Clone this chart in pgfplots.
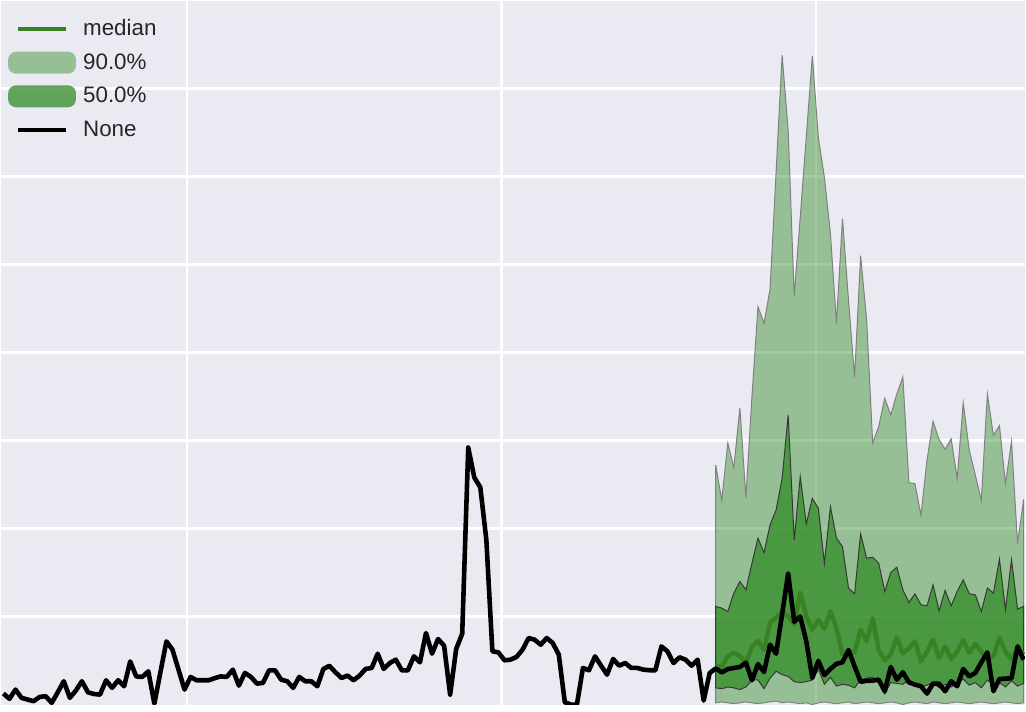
\documentclass[border=0pt]{standalone}
\usepackage{fontspec}
\setmainfont{Liberation Sans}
\usepackage{pgfplots}
\usepackage{pgfplotstable}
\pgfplotsset{compat=1.18}
\usepgfplotslibrary{fillbetween}

\definecolor{bg}{RGB}{234,234,242}
\definecolor{bandgreen}{RGB}{50,140,40}
\definecolor{medgreen}{RGB}{56,130,36}
\definecolor{edgelight}{RGB}{128,128,128}
\definecolor{edgedark}{RGB}{55,55,55}
\definecolor{txt}{RGB}{38,38,38}

% observed series (history and actuals)
\pgfplotstableread{
x y
0 0.125
1 0.065
2 0.17
3 0.076
4 0.057
5 0.038
6 0.087
7 0.095
8 0.019
9 0.14
10 0.265
11 0.076
12 0.16
13 0.265
14 0.14
15 0.12
16 0.113
17 0.276
18 0.19
19 0.276
20 0.208
21 0.49
22 0.32
23 0.314
24 0.378
25 0.011
26 0.366
27 0.718
28 0.624
29 0.397
30 0.17
31 0.314
32 0.276
33 0.276
34 0.276
35 0.3
36 0.32
37 0.314
38 0.397
39 0.215
40 0.36
41 0.314
42 0.238
43 0.246
44 0.389
45 0.389
46 0.283
47 0.265
48 0.19
49 0.314
50 0.265
51 0.265
52 0.208
53 0.405
54 0.44
55 0.367
56 0.302
57 0.329
58 0.276
59 0.329
60 0.405
61 0.416
62 0.578
63 0.405
64 0.472
65 0.51
66 0.389
67 0.389
68 0.548
69 0.48
70 0.813
71 0.578
72 0.745
73 0.669
74 0.113
75 0.631
76 0.805
77 2.921
78 2.581
79 2.468
80 1.871
81 0.605
82 0.593
83 0.503
84 0.51
85 0.541
86 0.624
87 0.756
88 0.737
89 0.68
90 0.756
91 0.699
92 0.567
93 0.026
94 0.0
95 0.0
96 0.416
97 0.389
98 0.548
99 0.442
100 0.34
101 0.518
102 0.442
103 0.472
104 0.416
105 0.416
106 0.397
107 0.39
108 0.389
109 0.661
110 0.605
111 0.472
112 0.537
113 0.51
114 0.442
115 0.51
116 0.045
117 0.359
118 0.41
119 0.365
120 0.404
121 0.416
122 0.427
123 0.476
124 0.276
125 0.46
126 0.37
127 0.68
128 0.578
129 1.03
130 1.49
131 0.94
132 1.0
133 0.72
134 0.302
135 0.497
136 0.335
137 0.406
138 0.463
139 0.48
140 0.62
141 0.435
142 0.259
143 0.27
144 0.272
145 0.283
146 0.151
147 0.427
148 0.283
149 0.367
150 0.253
151 0.227
152 0.208
153 0.125
154 0.238
155 0.238
156 0.151
157 0.265
158 0.208
159 0.404
160 0.321
161 0.359
162 0.48
163 0.593
164 0.151
165 0.291
166 0.295
167 0.298
168 0.661
169 0.51
}\obs

% forecast quantiles
\pgfplotstableread{
x l90 l50 med u50 u90
118 0.02 0.19 0.44 1.115 2.72
119 0.03 0.18 0.43 1.096 2.32
120 0.02 0.20 0.55 1.058 2.97
121 0.01 0.19 0.59 1.266 2.69
122 0.02 0.17 0.55 1.398 3.37
123 0.03 0.20 0.47 1.304 2.35
124 0.02 0.28 0.66 1.606 3.50
125 0.01 0.28 0.72 1.890 4.52
126 0.02 0.18 0.62 1.727 4.33
127 0.03 0.30 0.93 2.041 4.72
128 0.04 0.38 0.99 2.211 6.05
129 0.02 0.34 1.04 2.570 7.38
130 0.03 0.32 1.00 3.288 6.52
131 0.02 0.26 0.91 1.871 4.64
132 0.01 0.25 1.27 2.589 5.54
133 0.02 0.26 1.00 2.052 6.45
134 0.00 0.28 0.85 2.343 7.37
135 0.02 0.40 0.96 2.230 6.44
136 0.03 0.23 0.86 1.606 5.99
137 0.02 0.31 1.06 2.249 5.35
138 0.01 0.21 0.87 1.890 4.33
139 0.02 0.23 0.57 1.795 5.52
140 0.03 0.22 0.57 1.323 4.59
141 0.01 0.19 0.60 1.259 3.72
142 0.02 0.28 0.85 1.939 5.10
143 0.03 0.30 0.72 1.663 4.37
144 0.02 0.31 0.98 1.674 2.97
145 0.01 0.26 0.62 1.606 3.16
146 0.02 0.12 0.50 1.285 3.48
147 0.03 0.25 0.57 1.500 3.29
148 0.02 0.24 0.76 1.561 3.53
149 0.00 0.23 0.58 1.304 3.72
150 0.02 0.28 0.64 1.160 2.52
151 0.03 0.22 0.72 1.259 2.51
152 0.02 0.20 0.49 1.134 2.15
153 0.01 0.22 0.60 1.122 2.78
154 0.03 0.25 0.74 1.361 3.22
155 0.02 0.19 0.53 1.066 3.01
156 0.01 0.23 0.66 1.296 2.90
157 0.02 0.20 0.52 1.122 3.02
158 0.03 0.24 0.60 1.285 2.57
159 0.02 0.29 0.73 1.417 3.43
160 0.01 0.22 0.59 1.259 2.89
161 0.02 0.25 0.69 1.247 2.61
162 0.03 0.19 0.60 1.058 2.32
163 0.02 0.28 0.52 1.323 3.53
164 0.01 0.22 0.55 1.266 3.06
165 0.02 0.25 0.76 1.652 3.17
166 0.03 0.20 0.60 1.077 2.51
167 0.02 0.27 0.51 1.644 2.99
168 0.01 0.21 0.64 1.085 1.83
169 0.02 0.24 0.57 1.115 2.33
}\fc

\begin{document}
\begin{tikzpicture}
\begin{axis}[
  width=513pt, height=352.5pt, scale only axis,
  xmin=-0.38, xmax=169.21,
  ymin=0, ymax=7.993,
  xtick={30.36,82.51,134.66},
  ytick={1,2,3,4,5,6,7},
  xticklabels={}, yticklabels={},
  every tick label/.append style={overlay},
  tick style={draw=none},
  grid=major,
  major grid style={white, line width=1.15pt},
  axis line style={draw=none},
  axis background/.style={fill=bg},
  legend cell align=left,
  legend style={
    at={(0,1)}, anchor=north west,
    xshift=3.5pt, yshift=-8.5pt,
    draw=none, fill=none,
    inner sep=0pt, outer sep=0pt,
    row sep=5.85pt, column sep=3.6pt,
    font=\fontsize{11.2}{13}\selectfont,
    text=txt,
    nodes={inner sep=0pt},
    cells={anchor=west}
  },
]
  \addlegendimage{legend image code/.code={
    \path[draw=none, fill=none] (0pt,-5.5pt) rectangle (34pt,5.5pt);
    \draw[medgreen, line width=2.2pt] (5pt,0pt) -- (29pt,0pt);}}
  \addlegendentry{median}
  \addlegendimage{legend image code/.code={
    \fill[bandgreen, fill opacity=0.45, draw=none, rounded corners=4pt] (0pt,-5.5pt) rectangle (34pt,5.5pt);}}
  \addlegendentry{90.0\%}
  \addlegendimage{legend image code/.code={
    \fill[bandgreen, fill opacity=0.75, draw=none, rounded corners=4pt] (0pt,-5.5pt) rectangle (34pt,5.5pt);}}
  \addlegendentry{50.0\%}
  \addlegendimage{legend image code/.code={
    \path[draw=none, fill=none] (0pt,-5.5pt) rectangle (34pt,5.5pt);
    \draw[black, line width=2.2pt] (5pt,0pt) -- (29pt,0pt);}}
  \addlegendentry{None}

  \addplot[draw=none, name path=u90, forget plot] table[x=x, y=u90] {\fc};
  \addplot[draw=none, name path=l90, forget plot] table[x=x, y=l90] {\fc};
  \addplot[draw=none, name path=u50, forget plot] table[x=x, y=u50] {\fc};
  \addplot[draw=none, name path=l50, forget plot] table[x=x, y=l50] {\fc};

  \addplot[fill=bandgreen, fill opacity=0.45, draw=edgelight, line width=0.5pt, forget plot]
    fill between[of=u90 and l90];
  \addplot[fill=bandgreen, fill opacity=0.75, draw=edgedark, line width=0.5pt, forget plot]
    fill between[of=u50 and l50];

  \addplot[medgreen, line width=2.2pt, line join=round, forget plot] table[x=x, y=med] {\fc};
  \addplot[black, line width=2.3pt, line join=round, forget plot] table[x=x, y=y] {\obs};
\end{axis}
% white strip under the axes, as in the reference
\path (current axis.south west) ++(0pt,-3.5pt);
\end{tikzpicture}
\end{document}
